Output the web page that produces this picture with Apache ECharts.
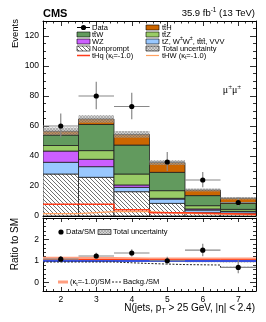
<!DOCTYPE html>
<html><head><meta charset="utf-8">
<script src="https://cdn.jsdelivr.net/npm/echarts@6/dist/echarts.min.js"></script>
<style>html,body{margin:0;padding:0;background:#fff}#c{width:266px;height:322px}</style>
</head><body><div id="c"></div>
<script>
// ---------- data ----------
const nJets = [2, 3, 4, 5, 6, 7];
const xTickLabels = [2, 3, 4, 5, 6, 7];
const yTickLabels = [0, 20, 40, 60, 80, 100, 120];
const ratioTickLabels = [0, 1, 2];

const nonprompt = [28.0, 25.8, 16.2, 8.4, 2.2, 1.8];
const tZetc     = [7.8, 7.1, 2.9, 2.9, 1.8, 1.1];
const wz        = [7.5, 4.9, 1.6, 0.5, 0.7, 0.2];
const ttZ       = [3.7, 5.8, 7.3, 5.1, 2.2, 1.3];
const ttW       = [7.0, 17.4, 19.3, 12.2, 6.7, 4.0];
const ttH       = [2.5, 3.7, 7.1, 6.5, 3.7, 3.4];
const totalUnc  = [2.5, 2.5, 2.2, 1.6, 1.0, 0.8];

const dataVals  = [60, 80, 73, 36, 24, 9];
const dataErrUp = [8.3, 9.5, 9.1, 6.6, 5.4, 3.5];
const dataErrDn = [7.6, 8.9, 8.5, 6.0, 4.9, 2.9];

const tHq = [7.8, 7.8, 4.2, 2.2, 1.6, 1.2];
const tHW = [1.6, 2.9, 2.9, 1.8, 1.2, 0.8];

const ratioData  = [1.08, 1.23, 1.37, 1.01, 1.50, 0.70];
const ratioErrUp = [0.15, 0.15, 0.17, 0.19, 0.30, 0.33];
const ratioErrDn = [0.14, 0.14, 0.16, 0.17, 0.28, 0.27];
const ratioKt    = [1.13, 1.11, 1.09, 1.09, 1.09, 1.09];
const ratioKtRed = [1.06, 1.06, 1.05, 1.05, 1.05, 1.05];
const ratioSM    = [1, 1, 1, 1, 1, 1];
const ratioBkg   = [0.95, 0.95, 0.88, 0.83, 0.81, 0.70];
const ratioUnc   = [0.045, 0.04, 0.04, 0.045, 0.06, 0.07];

// ---------- styling ----------
const FONT = '"Liberation Sans", Arial, Helvetica, sans-serif';
function pattern(size, lineColor, lw, bg, dirs) {
  const c = document.createElement('canvas'); c.width = size; c.height = size;
  const g = c.getContext('2d');
  if (bg) { g.fillStyle = bg; g.fillRect(0, 0, size, size); }
  g.strokeStyle = lineColor; g.lineWidth = lw;
  dirs.forEach(d => {
    for (let k = -size; k <= size; k += size) {
      g.beginPath();
      if (d === '\\') { g.moveTo(k, 0); g.lineTo(k + size, size); }
      else { g.moveTo(k, size); g.lineTo(k + size, 0); }
      g.stroke();
    }
  });
  return { image: c, repeat: 'repeat' };
}
const hatchNP = pattern(4, '#333', 0.7, '#fff', ['\\']);
const hatchUnc = pattern(3, 'rgba(90,90,90,0.6)', 0.5, 'rgba(175,175,175,0.55)', ['\\', '/']);

const C_TTH = '#cc6600', C_TTW = '#629a5e', C_TTZ = '#99cc66', C_WZ = '#cc5fff', C_TZ = '#99c8ff';
const C_THQ = '#ff3b1a', C_THW = '#ffa060';

// ---------- axes ----------
const xMajor = xTickLabels.slice();
const xMinor = []; for (let k = 8; k <= 37; k++) { const v = k / 5; if (Math.abs(v - Math.round(v)) > 1e-6) xMinor.push(+v.toFixed(2)); }
const yMinor = []; for (let v = 5; v < 130; v += 5) if (v % 20) yMinor.push(v);
const rMinor = []; for (let k = -1; k <= 14; k++) { const v = k / 5; if (Math.abs(v - Math.round(v)) > 1e-6) rMinor.push(+v.toFixed(2)); }

function mkX(grid, pos, vals, len, line, labels) {
  return { type: 'value', gridIndex: grid, position: pos, min: 1.5, max: 7.5,
    axisLine: { show: line, onZero: false, lineStyle: { color: '#000', width: 1 } },
    axisTick: { show: true, inside: true, length: len, customValues: vals, lineStyle: { color: '#000', width: 0.8 } },
    axisLabel: labels ? { show: true, customValues: labels, fontSize: 8.5, fontFamily: FONT, color: '#000', margin: 4 } : { show: false },
    splitLine: { show: false } };
}
function mkY(grid, pos, min, max, vals, len, line, labels) {
  return { type: 'value', gridIndex: grid, position: pos, min: min, max: max,
    axisLine: { show: line, onZero: false, lineStyle: { color: '#000', width: 1 } },
    axisTick: { show: true, inside: true, length: len, customValues: vals, lineStyle: { color: '#000', width: 0.8 } },
    axisLabel: labels ? { show: true, customValues: labels, fontSize: 8.5, fontFamily: FONT, color: '#000', margin: 4 } : { show: false },
    splitLine: { show: false } };
}

const xAxes = [
  mkX(0, 'bottom', xMajor, 5, true, null), mkX(0, 'bottom', xMinor, 2.5, false, null),
  mkX(0, 'top', xMajor, 5, true, null), mkX(0, 'top', xMinor, 2.5, false, null),
  mkX(1, 'bottom', xMajor, 4, true, xTickLabels), mkX(1, 'bottom', xMinor, 2, false, null),
  mkX(1, 'top', xMajor, 4, true, null), mkX(1, 'top', xMinor, 2, false, null)
];
const yAxes = [
  mkY(0, 'left', 0, 130, yTickLabels, 6, true, yTickLabels), mkY(0, 'left', 0, 130, yMinor, 3, false, null),
  mkY(0, 'right', 0, 130, yTickLabels, 6, true, null), mkY(0, 'right', 0, 130, yMinor, 3, false, null),
  mkY(1, 'left', -0.4, 3.0, ratioTickLabels, 6, true, ratioTickLabels), mkY(1, 'left', -0.4, 3.0, rMinor, 3, false, null),
  mkY(1, 'right', -0.4, 3.0, ratioTickLabels, 6, true, null), mkY(1, 'right', -0.4, 3.0, rMinor, 3, false, null)
];

// ---------- series ----------
function rectRender(fill, stroke, lw) {
  return (params, api) => {
    const x = api.value(0), lo = api.value(1), hi = api.value(2);
    const a = api.coord([x - 0.5, hi]), b = api.coord([x + 0.5, lo]);
    return { type: 'rect', shape: { x: a[0], y: a[1], width: b[0] - a[0], height: b[1] - a[1] },
      style: { fill: fill, stroke: stroke || null, lineWidth: lw || 0 } };
  };
}
function pointRender(r) {
  return (params, api) => {
    const x = api.value(0), y = api.value(1), eu = api.value(2), ed = api.value(3);
    const c = api.coord([x, y]), l = api.coord([x - 0.5, y]), rr = api.coord([x + 0.5, y]);
    const t = api.coord([x, y + eu]), b = api.coord([x, y - ed]);
    return { type: 'group', children: [
      { type: 'line', shape: { x1: l[0], y1: l[1], x2: rr[0], y2: rr[1] }, style: { stroke: '#888', lineWidth: 1.2 } },
      { type: 'line', shape: { x1: t[0], y1: t[1], x2: b[0], y2: b[1] }, style: { stroke: '#888', lineWidth: 1.2 } },
      { type: 'circle', shape: { cx: c[0], cy: c[1], r: r }, style: { fill: '#000' } }
    ] };
  };
}
function stepSeries(vals, color, width, type, gi, z) {
  const pts = [];
  nJets.forEach((x, i) => { pts.push([x - 0.5, vals[i]]); pts.push([x + 0.5, vals[i]]); });
  return { type: 'line', xAxisIndex: gi * 4, yAxisIndex: gi * 4, data: pts, showSymbol: false, symbol: 'none',
    lineStyle: { color: color, width: width, type: type }, animation: false, silent: true, z: z || 3 };
}

const series = [];
const comps = [[nonprompt, hatchNP], [tZetc, C_TZ], [wz, C_WZ], [ttZ, C_TTZ], [ttW, C_TTW], [ttH, C_TTH]];
let cum = nJets.map(() => 0);
comps.forEach(([vals, fill]) => {
  const lo = cum.slice(); const hi = cum.map((c, i) => c + vals[i]); cum = hi;
  series.push({ type: 'custom', xAxisIndex: 0, yAxisIndex: 0, clip: true, silent: true, animation: false, z: 2,
    data: nJets.map((x, i) => [x, lo[i], hi[i]]), encode: { x: 0, y: [1, 2] }, renderItem: rectRender(fill, '#222', 0.8) });
});
const total = cum;
series.push({ type: 'custom', xAxisIndex: 0, yAxisIndex: 0, clip: true, silent: true, animation: false, z: 2,
  data: nJets.map((x, i) => [x, total[i] - totalUnc[i], total[i] + totalUnc[i]]), encode: { x: 0, y: [1, 2] },
  renderItem: rectRender(hatchUnc, null, 0) });
series.push(stepSeries(tHW, C_THW, 1.2, 'solid', 0));
series.push(stepSeries(tHq, C_THQ, 1.5, 'solid', 0));
series.push({ type: 'custom', xAxisIndex: 0, yAxisIndex: 0, clip: true, silent: true, animation: false, z: 5,
  data: nJets.map((x, i) => [x, dataVals[i], dataErrUp[i], dataErrDn[i]]), encode: { x: 0, y: 1 },
  renderItem: pointRender(2.6) });

// ratio panel
series.push({ type: 'custom', xAxisIndex: 4, yAxisIndex: 4, clip: true, silent: true, animation: false, z: 2,
  data: nJets.map((x, i) => [x, 1 - ratioUnc[i], 1 + ratioUnc[i]]), encode: { x: 0, y: [1, 2] },
  renderItem: rectRender(hatchUnc, null, 0) });
series.push(stepSeries(ratioKt, '#ff9e80', 3, 'solid', 1));
series.push(stepSeries(ratioKtRed, '#ff2a00', 1, 'solid', 1));
series.push(stepSeries(ratioSM, '#3a50dd', 2, 'solid', 1));
series.push(stepSeries(ratioBkg, '#222', 1, [2, 1.5], 1));
series.push({ type: 'custom', xAxisIndex: 4, yAxisIndex: 4, clip: true, silent: true, animation: false, z: 5,
  data: nJets.map((x, i) => [x, ratioData[i], ratioErrUp[i], ratioErrDn[i]]), encode: { x: 0, y: 1 },
  renderItem: pointRender(2.6) });

// ---------- text / legend ----------
const LF = 7.5;
function txt(x, y, text, opt, rot) {
  const el = { type: 'text', x: x, y: y, z: 20, silent: true,
    style: Object.assign({ text: text, fontSize: LF, fontFamily: FONT, fill: '#000', align: 'left', verticalAlign: 'middle',
      lineHeight: 10, rich: { sup: { fontSize: LF * 0.7, verticalAlign: 'top', fontFamily: FONT, lineHeight: 10 },
                             sub: { fontSize: LF * 0.7, verticalAlign: 'bottom', fontFamily: FONT, lineHeight: 10 } } }, opt || {}) };
  if (rot) el.rotation = rot;
  return el;
}
function box(x, y, fill) {
  return { type: 'rect', z: 20, silent: true, shape: { x: x, y: y - 2.5, width: 13, height: 5 }, style: { fill: fill, stroke: '#000', lineWidth: 0.6 } };
}
function hline(x1, x2, y, color, w, dash) {
  return { type: 'line', z: 20, silent: true, shape: { x1: x1, y1: y, x2: x2, y2: y }, style: { stroke: color, lineWidth: w, lineDash: dash || null } };
}
const rows = [27.5, 34.5, 41.5, 48.5, 55.5];
const c1 = 77, c2 = 146;
const graphic = [
  txt(43, 14, 'CMS', { fontSize: 11, fontWeight: 'bold' }),
  txt(255, 13, '35.9 fb{sup|-1} (13 TeV)', { fontSize: 9.5, align: 'right', lineHeight: 13,
    rich: { sup: { fontSize: 6.5, verticalAlign: 'top', fontFamily: FONT, lineHeight: 13 } } }),
  txt(15, 19, 'Events', { fontSize: 9.5, align: 'right' }, Math.PI / 2),
  txt(15, 218, 'Ratio to SM', { fontSize: 10, align: 'right' }, Math.PI / 2),
  txt(255, 308, 'N(jets, p{sub|T} > 25 GeV, |η| < 2.4)', { fontSize: 10, align: 'right', lineHeight: 14,
    rich: { sub: { fontSize: 7, verticalAlign: 'bottom', fontFamily: FONT, lineHeight: 14 } } }),
  txt(232, 90, 'μ{sup|±}μ{sup|±}', { fontSize: 10, align: 'center', fontFamily: '"Liberation Serif", serif', lineHeight: 13,
    rich: { sup: { fontSize: 7, verticalAlign: 'top', fontFamily: '"Liberation Serif", serif', lineHeight: 13 } } }),
  // main legend column 1
  hline(c1, c1 + 13, rows[0], '#000', 1),
  { type: 'circle', z: 21, silent: true, shape: { cx: c1 + 6.5, cy: rows[0], r: 2.6 }, style: { fill: '#000' } },
  txt(c1 + 15, rows[0], 'Data'),
  box(c1, rows[1], C_TTW), txt(c1 + 15, rows[1], 'tt̄W'),
  box(c1, rows[2], C_WZ), txt(c1 + 15, rows[2], 'WZ'),
  box(c1, rows[3], hatchNP), txt(c1 + 15, rows[3], 'Nonprompt'),
  hline(c1, c1 + 13, rows[4], C_THQ, 1.5), txt(c1 + 15, rows[4], 'tHq (κ{sub|t}=-1.0)'),
  // column 2
  box(c2, rows[0], C_TTH), txt(c2 + 16, rows[0], 'tt̄H'),
  box(c2, rows[1], C_TTZ), txt(c2 + 16, rows[1], 'tt̄Z'),
  box(c2, rows[2], C_TZ), txt(c2 + 16, rows[2], 'tZ, W{sup|±}W{sup|±}, tt̄tt̄, VVV'),
  box(c2, rows[3], hatchUnc), txt(c2 + 16, rows[3], 'Total uncertainty'),
  hline(c2, c2 + 13, rows[4], C_THW, 1.2), txt(c2 + 16, rows[4], 'tHW (κ{sub|t}=-1.0)'),
  // ratio legend
  { type: 'circle', z: 21, silent: true, shape: { cx: 61, cy: 232, r: 2.6 }, style: { fill: '#000' } },
  txt(66, 232, 'Data/SM'),
  box(98, 232, hatchUnc), txt(113, 232, 'Total uncertainty'),
  hline(58, 68, 282, '#ff9e80', 3), txt(70, 282, '(κ{sub|t}=-1.0)/SM'),
  hline(112, 121, 282, '#222', 1, [2, 1.5]), txt(123, 282, 'Backg./SM')
];

const chart = echarts.init(document.getElementById('c'), null, { renderer: 'canvas' });
chart.setOption({
  animation: false,
  backgroundColor: '#fff',
  grid: [{ left: 43, right: 10, top: 21, height: 195 }, { left: 43, right: 10, top: 218, height: 73 }],
  xAxis: xAxes,
  yAxis: yAxes,
  series: series,
  graphic: graphic
});
</script></body></html>
